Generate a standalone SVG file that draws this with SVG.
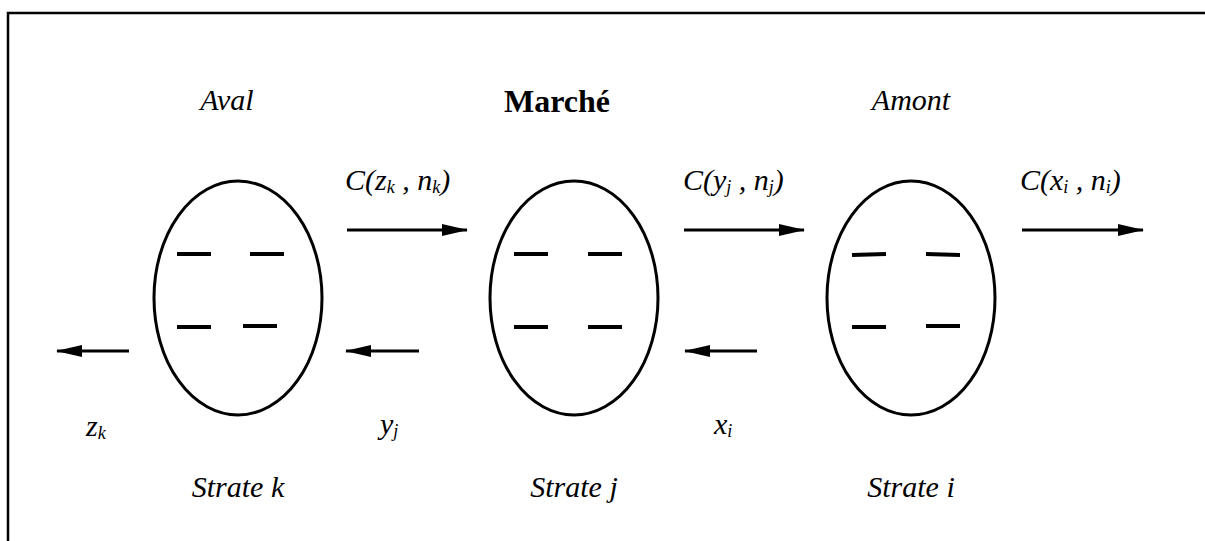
<svg xmlns="http://www.w3.org/2000/svg" width="1205" height="541" viewBox="0 0 1205 541">
<style>
text{font-family:"Liberation Serif","DejaVu Serif",serif;fill:#000;font-size:30px}
.it{font-style:italic}
.b{font-weight:bold;font-size:32px}
.sub{font-size:18px}
.ell{fill:none;stroke:#000;stroke-width:3}
.dash{stroke:#000;stroke-width:4}
.arr{stroke:#000;stroke-width:3;fill:none}
</style>
<defs>
<marker id="ahb" markerWidth="26" markerHeight="12" refX="25" refY="6" orient="auto" markerUnits="userSpaceOnUse">
<path d="M0,0 L26,6 L0,12 Z" fill="#000"/>
</marker>
</defs>
<rect width="1205" height="541" fill="#fff"/>
<path d="M8,541 L8,13 L1205,13" fill="none" stroke="#000" stroke-width="2.5"/>

<g id="aval">
<text class="it" x="227" y="110" text-anchor="middle">Aval</text>
<ellipse class="ell" cx="238" cy="298" rx="84" ry="117"/>
<line class="dash" x1="177" y1="254" x2="211" y2="254"/>
<line class="dash" x1="250" y1="254" x2="284" y2="254"/>
<line class="dash" x1="177" y1="327" x2="211" y2="327"/>
<line class="dash" x1="243" y1="326" x2="277" y2="326"/>
<text class="it" x="238" y="497" text-anchor="middle">Strate k</text>
</g>

<g id="marche">
<text class="b" x="557" y="112" text-anchor="middle">Marché</text>
<ellipse class="ell" cx="574" cy="298" rx="84" ry="117"/>
<line class="dash" x1="514" y1="254" x2="548" y2="254"/>
<line class="dash" x1="588" y1="254" x2="622" y2="254"/>
<line class="dash" x1="514" y1="327" x2="548" y2="327"/>
<line class="dash" x1="588" y1="327" x2="622" y2="327"/>
<text class="it" x="574" y="497" text-anchor="middle">Strate j</text>
</g>

<g id="amont">
<text class="it" x="911" y="110" text-anchor="middle">Amont</text>
<ellipse class="ell" cx="911" cy="298" rx="84" ry="117"/>
<line class="dash" x1="852" y1="255" x2="886" y2="254"/>
<line class="dash" x1="926" y1="254" x2="960" y2="255"/>
<line class="dash" x1="852" y1="327" x2="886" y2="327"/>
<line class="dash" x1="926" y1="326" x2="960" y2="326"/>
<text class="it" x="911" y="497" text-anchor="middle">Strate i</text>
</g>

<g id="connectors">
<line class="arr" x1="347" y1="230" x2="467" y2="230" marker-end="url(#ahb)"/>
<line class="arr" x1="684" y1="230" x2="804" y2="230" marker-end="url(#ahb)"/>
<line class="arr" x1="1022" y1="230" x2="1143" y2="230" marker-end="url(#ahb)"/>
<line class="arr" x1="129" y1="351" x2="57" y2="351" marker-end="url(#ahb)"/>
<line class="arr" x1="419" y1="351" x2="346" y2="351" marker-end="url(#ahb)"/>
<line class="arr" x1="757" y1="351" x2="685" y2="351" marker-end="url(#ahb)"/>
</g>

<g id="labels">
<text class="it" x="345" y="190">C(z<tspan class="sub" dy="3">k</tspan><tspan dy="-3"> , n</tspan><tspan class="sub" dy="3">k</tspan><tspan dy="-3">)</tspan></text>
<text class="it" x="683" y="190">C(y<tspan class="sub" dy="3">j</tspan><tspan dy="-3"> , n</tspan><tspan class="sub" dy="3">j</tspan><tspan dy="-3">)</tspan></text>
<text class="it" x="1020" y="190">C(x<tspan class="sub" dy="3">i</tspan><tspan dy="-3"> , n</tspan><tspan class="sub" dy="3">i</tspan><tspan dy="-3">)</tspan></text>
<text class="it" x="86" y="436">z<tspan class="sub" dy="3">k</tspan></text>
<text class="it" x="380" y="434">y<tspan class="sub" dy="3">j</tspan></text>
<text class="it" x="714" y="434">x<tspan class="sub" dy="3">i</tspan></text>
</g>
</svg>
